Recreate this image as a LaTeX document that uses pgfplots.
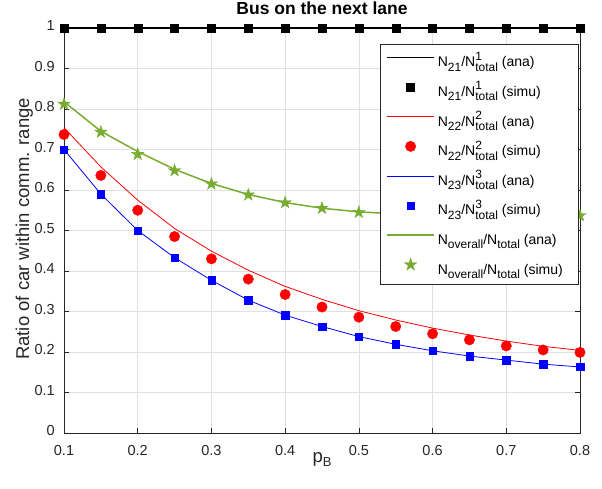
\documentclass[border=0pt]{standalone}
\usepackage{fontspec}
\setmainfont{Liberation Sans}
\usepackage{pgfplots}
\pgfplotsset{compat=1.18}
\definecolor{mgreen}{rgb}{0.466,0.674,0.188}
\definecolor{axgray}{rgb}{0.15,0.15,0.15}
\newcommand{\lsub}[1]{\raisebox{-4.5pt}{\fontsize{12}{12}\selectfont #1}}
\newcommand{\lsup}[1]{\raisebox{6.5pt}{\fontsize{12}{12}\selectfont #1}}
\newcommand{\ratio}[2]{N\lsub{#1}/N\rlap{\lsup{#2}}\lsub{total}}
\pgfdeclareplotmark{fstar}{%
  \pgfpathmoveto{\pgfpointpolar{90}{\pgfplotmarksize}}%
  \pgfpathlineto{\pgfpointpolar{126}{0.382\pgfplotmarksize}}%
  \pgfpathlineto{\pgfpointpolar{162}{\pgfplotmarksize}}%
  \pgfpathlineto{\pgfpointpolar{198}{0.382\pgfplotmarksize}}%
  \pgfpathlineto{\pgfpointpolar{234}{\pgfplotmarksize}}%
  \pgfpathlineto{\pgfpointpolar{270}{0.382\pgfplotmarksize}}%
  \pgfpathlineto{\pgfpointpolar{306}{\pgfplotmarksize}}%
  \pgfpathlineto{\pgfpointpolar{342}{0.382\pgfplotmarksize}}%
  \pgfpathlineto{\pgfpointpolar{18}{\pgfplotmarksize}}%
  \pgfpathlineto{\pgfpointpolar{54}{0.382\pgfplotmarksize}}%
  \pgfpathclose\pgfusepathqfillstroke}
\pgfplotsset{
  mylegline/.style={legend image code/.code={\draw[mark repeat=2,mark phase=2,##1] plot coordinates {(0pt,3pt)(23.5pt,3pt)(47pt,3pt)};}},
}
\begin{document}
\begin{tikzpicture}[font=\fontsize{14.5}{17}\selectfont]
\path[use as bounding box] (-64pt,-56pt) rectangle (538pt,433pt);
\begin{axis}[at={(0,0)}, anchor=south west, scale only axis, width=516pt, height=405pt,
  xmin=0.1,xmax=0.8,ymin=0,ymax=1,
  xtick={0.1,0.2,0.3,0.4,0.5,0.6,0.7,0.8},
  ytick={0,0.1,0.2,0.3,0.4,0.5,0.6,0.7,0.8,0.9,1},
  yticklabels={0,0.1,0.2,0.3,0.4,0.5,0.6,0.7,0.8,0.9,1},
  xticklabels={0.1,0.2,0.3,0.4,0.5,0.6,0.7,0.8},
  tick align=inside, major tick length=5pt,
  xtick pos=both, ytick pos=both,
  grid=major, grid style={color=black!12, line width=0.5pt},
  axis line style={axgray, line width=0.6pt},
  tick style={axgray, line width=0.6pt},
  ticklabel style={text=axgray, inner sep=0pt},
  xticklabel style={anchor=base, yshift=-22.4pt},
  yticklabel style={anchor=mid east, xshift=-9pt},
  title={\fontsize{17.5}{20}\selectfont\bfseries Bus on the next lane},
  title style={at={(axis description cs:0.5,1.0173)}, anchor=base, inner sep=0pt},
  xlabel={\fontsize{18.5}{21}\selectfont p\raisebox{-4pt}{\fontsize{13}{13}\selectfont B}},
  ylabel={\fontsize{18.5}{21}\selectfont Ratio of car within comm. range},
  xlabel style={at={(axis description cs:0.5,-0.073)}, anchor=base, inner sep=0pt, text=axgray},
  ylabel style={at={(axis description cs:-0.0678,0.504)}, anchor=base, inner sep=0pt, text=axgray},
  clip=false,
  legend style={at={(0.9961,0.9605)}, anchor=north east, draw=axgray, inner xsep=6pt, inner ysep=1.55pt,
    font=\fontsize{14}{16}\selectfont,
    nodes={inner xsep=3pt, inner ysep=1pt, text height=20.15pt, text depth=7.45pt, text=black}},
  legend cell align=left,
]
\addplot[black, line width=1.2pt, mylegline] coordinates {(0.1,1)(0.15,1)(0.2,1)(0.25,1)(0.3,1)(0.35,1)(0.4,1)(0.45,1)(0.5,1)(0.55,1)(0.6,1)(0.65,1)(0.7,1)(0.75,1)(0.8,1)};
\addlegendentry{\ratio{21}{1} (ana)}
\addplot[only marks, mark=square*, mark size=4pt, black, mylegline] coordinates {(0.1,1)(0.15,1)(0.2,1)(0.25,1)(0.3,1)(0.35,1)(0.4,1)(0.45,1)(0.5,1)(0.55,1)(0.6,1)(0.65,1)(0.7,1)(0.75,1)(0.8,1)};
\addlegendentry{\ratio{21}{1} (simu)}
\addplot[red, line width=0.8pt, mylegline] coordinates {(0.1,0.754)(0.15,0.657)(0.2,0.575)(0.25,0.505)(0.3,0.449)(0.35,0.402)(0.4,0.362)(0.45,0.330)(0.5,0.302)(0.55,0.279)(0.6,0.259)(0.65,0.242)(0.7,0.227)(0.75,0.214)(0.8,0.204)};
\addlegendentry{\ratio{22}{2} (ana)}
\addplot[only marks, mark=*, mark size=5.2pt, red, mylegline] coordinates {(0.1,0.737)(0.15,0.636)(0.2,0.550)(0.25,0.485)(0.3,0.430)(0.35,0.380)(0.4,0.342)(0.45,0.311)(0.5,0.286)(0.55,0.263)(0.6,0.245)(0.65,0.230)(0.7,0.215)(0.75,0.205)(0.8,0.199)};
\addlegendentry{\ratio{22}{2} (simu)}
\addplot[blue, line width=0.8pt, mylegline] coordinates {(0.1,0.700)(0.15,0.590)(0.2,0.500)(0.25,0.433)(0.3,0.377)(0.35,0.328)(0.4,0.291)(0.45,0.263)(0.5,0.238)(0.55,0.219)(0.6,0.203)(0.65,0.190)(0.7,0.180)(0.75,0.170)(0.8,0.163)};
\addlegendentry{\ratio{23}{3} (ana)}
\addplot[only marks, mark=square*, mark size=3.7pt, blue, mylegline] coordinates {(0.1,0.700)(0.15,0.590)(0.2,0.500)(0.25,0.433)(0.3,0.377)(0.35,0.328)(0.4,0.291)(0.45,0.263)(0.5,0.238)(0.55,0.219)(0.6,0.203)(0.65,0.190)(0.7,0.180)(0.75,0.170)(0.8,0.163)};
\addlegendentry{\ratio{23}{3} (simu)}
\addplot[mgreen, line width=1.5pt, mylegline] coordinates {(0.1,0.818)(0.15,0.745)(0.2,0.695)(0.25,0.651)(0.3,0.616)(0.35,0.589)(0.4,0.569)(0.45,0.555)(0.5,0.546)(0.55,0.541)(0.6,0.538)(0.65,0.537)(0.7,0.536)(0.75,0.536)(0.8,0.536)};
\addlegendentry{N\lsub{overall}/N\lsub{total} (ana)}
\addplot[only marks, mark=fstar, mark size=6.5pt, mgreen, line width=0.4pt, mark options={fill=mgreen}, mylegline] coordinates {(0.1,0.812)(0.15,0.743)(0.2,0.688)(0.25,0.648)(0.3,0.615)(0.35,0.588)(0.4,0.569)(0.45,0.555)(0.5,0.545)(0.55,0.541)(0.6,0.539)(0.65,0.538)(0.7,0.537)(0.75,0.537)(0.8,0.537)};
\addlegendentry{N\lsub{overall}/N\lsub{total} (simu)\hspace*{6pt}}
\end{axis}
\end{tikzpicture}
\end{document}
